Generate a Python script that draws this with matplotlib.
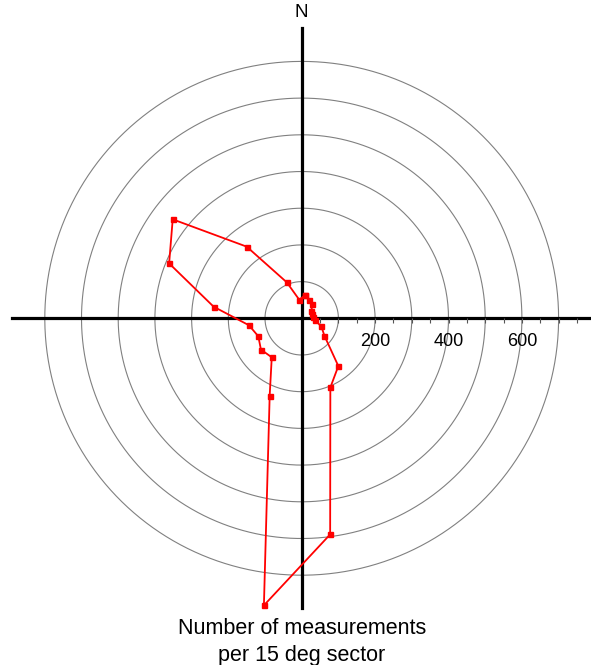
import numpy as np
import matplotlib.pyplot as plt

plt.rcParams['font.family'] = ['Liberation Sans', 'DejaVu Sans']

# bearing of each 15 deg sector centre (degrees clockwise from north)
sector_deg = [7.5, 22.5, 37.5, 52.5, 67.5, 82.5, 97.5, 112.5, 127.5, 142.5, 157.5, 172.5,
              187.5, 202.5, 217.5, 232.5, 247.5, 262.5, 277.5, 292.5, 307.5, 322.5, 337.5, 352.5]
counts = [63, 55, 48, 33, 30, 32, 36, 58, 78, 164, 204, 594,
          789, 228, 134, 140, 128, 145, 242, 391, 443, 246, 106, 51]

ring_radii = [100, 200, 300, 400, 500, 600, 700]
tick_pos = np.arange(50, 751, 50)
tick_labels = [200, 400, 600]
axis_len = 790


def rose_diagram():
    fig = plt.figure(figsize=(5.91, 6.65), dpi=100)
    ax = fig.add_axes([0, 0, 1, 1])
    scale = 0.367  # pixels per count
    ax.set_xlim(-301.7 / scale, (591 - 301.7) / scale)
    ax.set_ylim(-(665 - 318.3) / scale, 318.3 / scale)
    ax.axis('off')

    # range rings
    t = np.linspace(0, 2 * np.pi, 400)
    for r in ring_radii:
        ax.plot(r * np.cos(t), r * np.sin(t), color='#808080', lw=0.8, zorder=1)

    # north-south / east-west axes
    ax.plot([-axis_len, axis_len], [0, 0], color='black', lw=2.3, zorder=2)
    ax.plot([0, 0], [-axis_len, axis_len], color='black', lw=2.3, zorder=2)
    ax.vlines(tick_pos, -12, 0, color='#555555', lw=0.8, zorder=2)
    for v in tick_labels:
        ax.text(v, -64, str(v), ha='center', va='center', fontsize=13)
    ax.text(0, 832, 'N', ha='center', va='center', fontsize=13.5)

    # closed rose outline
    theta = np.radians(sector_deg + sector_deg[:1])
    r = np.array(counts + counts[:1])
    ax.plot(r * np.sin(theta), r * np.cos(theta), color='red', lw=1.3,
            marker='s', markersize=3.6, zorder=3)

    ax.text(0, -(629 - 318.3) / scale, 'Number of measurements', ha='center',
            va='center', fontsize=15.5)
    ax.text(0, -(655 - 318.3) / scale, 'per 15 deg sector', ha='center',
            va='center', fontsize=15.5)

    fig.savefig('out.png', dpi=100)


if __name__ == "__main__":
    rose_diagram()
